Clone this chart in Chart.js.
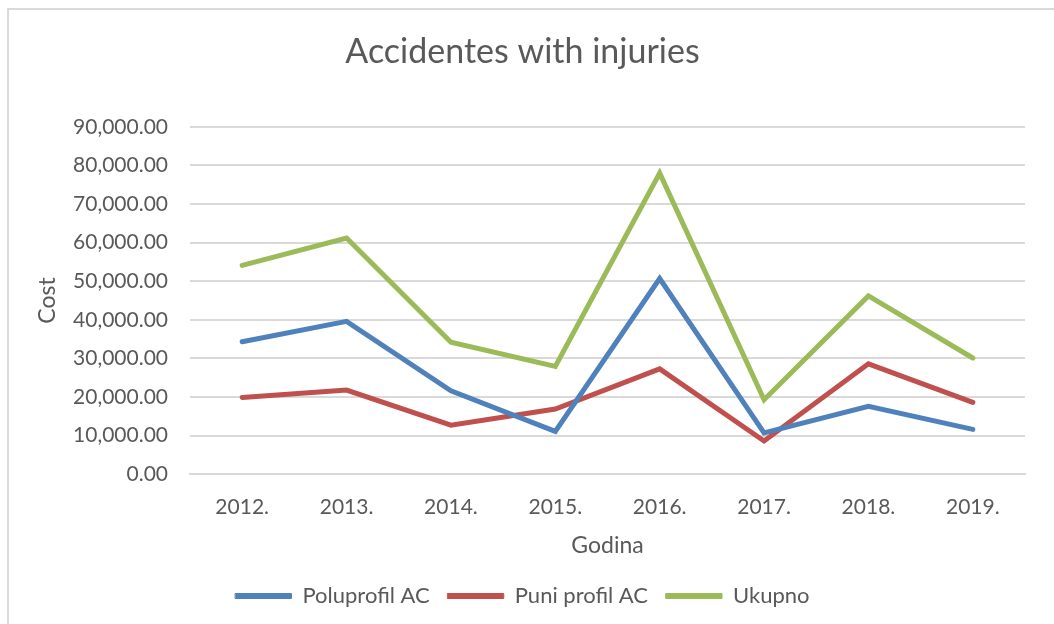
<!DOCTYPE html>
<html>
<head>
<meta charset="utf-8">
<script src="https://cdn.jsdelivr.net/npm/chart.js@4/dist/chart.umd.min.js"></script>
<style>
  html, body { margin: 0; padding: 0; background: #fff; }
  #wrap { position: relative; width: 1054px; height: 624px; overflow: hidden; }
  #frame { position: absolute; left: 7px; top: 8px; width: 1100px; height: 700px;
           border-left: 2px solid #d9d9d9; border-top: 2px solid #d9d9d9; }
  canvas { position: absolute; left: 0; top: 0; }
</style>
</head>
<body>
<div id="wrap">
  <div id="frame"></div>
  <canvas id="chart" width="1054" height="624"></canvas>
</div>
<script>
// chart data
const years = ['2012.', '2013.', '2014.', '2015.', '2016.', '2017.', '2018.', '2019.'];
const poluprofil = [34300, 39600, 21600, 11100, 50700, 10700, 17600, 11600];
const puniProfil = [19900, 21800, 12700, 16900, 27300, 8600, 28600, 18600];
const ukupno = [54100, 61200, 34200, 27900, 78000, 19300, 46200, 30100];

const textColor = '#595959';
const fontFamily = 'Lato, "Open Sans", sans-serif';

function makeSeries(label, values, color) {
    return {
        label: label,
        data: values,
        borderColor: color,
        backgroundColor: color,
        borderWidth: 5,
        pointRadius: 0,
        pointHoverRadius: 0,
        tension: 0,
        borderCapStyle: 'round',
        borderJoinStyle: 'miter'
    };
}

const ctx = document.getElementById('chart').getContext('2d');
new Chart(ctx, {
    type: 'line',
    data: {
        labels: years,
        datasets: [
            makeSeries('Poluprofil AC', poluprofil, '#4f81bd'),
            makeSeries('Puni profil AC', puniProfil, '#c0504d'),
            makeSeries('Ukupno', ukupno, '#9bbb59')
        ]
    },
    options: {
        responsive: false,
        animation: false,
        layout: { padding: { left: 20, right: 29, top: 0, bottom: 7 } },
        plugins: {
            title: {
                display: true,
                text: 'Accidentes with injuries',
                color: textColor,
                font: { family: fontFamily, size: 34, weight: 'normal' },
                padding: { top: 32, bottom: 54 }
            },
            legend: {
                position: 'bottom',
                labels: {
                    color: textColor,
                    font: { family: fontFamily, size: 22 },
                    boxWidth: 56,
                    boxHeight: 5,
                    padding: 18,
                    generateLabels: (chart) => {
                        const items = Chart.defaults.plugins.legend.labels.generateLabels(chart);
                        items.forEach(it => { it.lineWidth = 1; it.lineCap = 'round'; });
                        return items;
                    }
                }
            },
            tooltip: { enabled: false }
        },
        scales: {
            x: {
                offset: true,
                grid: { display: false, drawTicks: false },
                border: { display: true, color: '#d9d9d9', width: 2 },
                ticks: {
                    color: textColor,
                    font: { family: fontFamily, size: 21 },
                    padding: 20,
                    maxRotation: 0
                },
                title: {
                    display: true,
                    text: 'Godina',
                    color: textColor,
                    font: { family: fontFamily, size: 23 },
                    padding: { top: -8, bottom: 8 }
                }
            },
            y: {
                min: 0,
                max: 90000,
                grid: { color: '#d9d9d9', lineWidth: 2, drawTicks: false },
                border: { display: false },
                ticks: {
                    stepSize: 10000,
                    color: textColor,
                    font: { family: fontFamily, size: 21 },
                    padding: 22,
                    callback: (v) => v.toLocaleString('en-US', { minimumFractionDigits: 2, maximumFractionDigits: 2 })
                },
                title: {
                    display: true,
                    text: 'Cost',
                    color: textColor,
                    font: { family: fontFamily, size: 23 },
                    padding: { top: 14, bottom: 0 }
                },
                afterFit: (scale) => { scale.width = 170; }
            }
        }
    }
});
</script>
</body>
</html>
